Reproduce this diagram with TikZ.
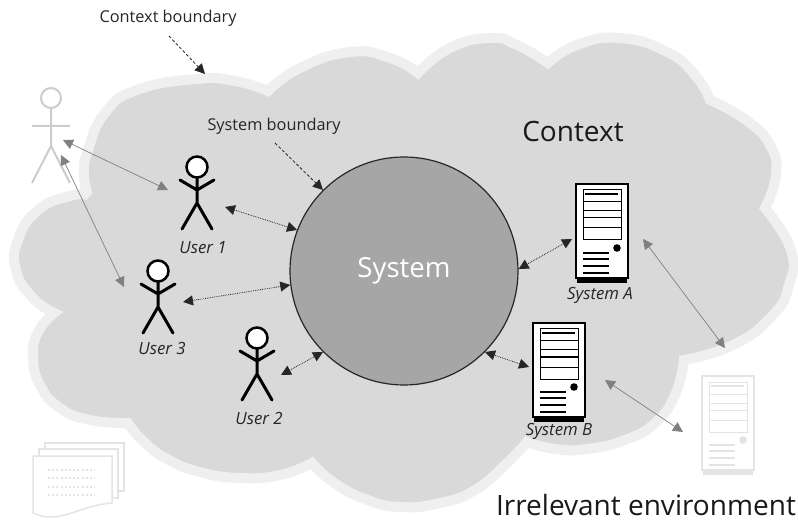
\documentclass[tikz,border=0pt]{standalone}
\usepackage{fontspec}
\setmainfont{Open Sans}
\usetikzlibrary{positioning,arrows.meta}
\definecolor{cloudfill}{HTML}{D9D9D9}
\definecolor{cloudrim}{HTML}{EFEFEF}
\definecolor{faint}{HTML}{E4E4E4}
\tikzset{
    tip/.style={-{Triangle[length=10pt,width=10pt]}},
    bothtip/.style={{Triangle[length=10pt,width=10pt]}-{Triangle[length=10pt,width=10pt]}},
    blackarrow/.style={bothtip, black!85, line width=0.8pt, densely dotted},
    greyarrow/.style={bothtip, black!50, line width=0.7pt},
    pointer/.style={tip, black!85, line width=0.8pt, densely dashed},
    lobe/.style={smooth,tension=0.85},
    caption/.style={text=black!85, font=\fontsize{16.8}{19}\selectfont\itshape, inner sep=0pt},
    title/.style={text=black!85, font=\fontsize{16.3}{19}\selectfont, inner sep=0pt},
    bigtitle/.style={text=black!90, font=\fontsize{28}{32}\selectfont, inner sep=0pt}
}
\begin{document}
\begin{tikzpicture}[x=1pt,y=-1pt]
    \useasboundingbox (0,0) rectangle (798,521);

    % Cloud
    \filldraw[fill=cloudfill, draw=cloudrim, line width=10pt, line join=miter, miter limit=2]
        plot[lobe] coordinates {(268,91) (235,81) (197,79) (137,90) (105,113) (88,150) (84,175) (88,195)}
        -- plot[lobe] coordinates {(88,195) (70,196) (38,210) (18,240) (16,270) (32,297) (54,313)}
        -- plot[lobe] coordinates {(54,313) (38,332) (33,357) (40,385) (60,408) (90,420) (128,423)}
        -- plot[lobe] coordinates {(128,423) (143,441) (167,459) (200,472) (240,478) (280,475) (312,463)}
        -- plot[lobe] coordinates {(312,463) (333,482) (365,499) (400,507) (440,503) (475,490) (505,465) (527,442)}
        -- plot[lobe] coordinates {(527,442) (555,449) (587,449) (625,440) (655,423) (675,395) (684,360)}
        -- plot[lobe] coordinates {(684,360) (733,345) (772,316) (789,285) (791,250) (765,208)}
        -- plot[lobe] coordinates {(765,208) (776,175) (770,145) (746,120) (710,100)}
        -- plot[lobe] coordinates {(710,100) (695,75) (667,52) (620,38) (577,45) (548,63)}
        -- plot[lobe] coordinates {(548,63) (517,45) (490,38) (450,48) (418,73)}
        -- plot[lobe] coordinates {(418,73) (390,58) (350,52) (300,68) (268,91)}
        -- cycle;

    % System
    \node[circle, draw=black!85, fill=black!35, line width=1.2pt, minimum size=228pt, inner sep=0pt,
        text=white, font=\fontsize{27.6}{30}\selectfont] (system) at (404,271) {System};

    % Users
    \foreach \ux/\uy in {197/167, 158/271, 257/338} {
        \draw[line width=3pt, line cap=round, line join=round]
            (\ux,\uy+11) -- (\ux,\uy+36) -- (\ux-15,\uy+62)
            (\ux,\uy+36) -- (\ux+15,\uy+62)
            (\ux-17,\uy+13) -- (\ux,\uy+23) -- (\ux+17,\uy+13);
        \draw[line width=2.5pt, fill=white] (\ux,\uy) circle (10.5);
    }
    \node[caption] (user1) at (203,248) {User 1};
    \node[caption] (user2) at (259,418) {User 2};
    \node[caption] (user3) at (162,348) {User 3};

    % Outside user
    \draw[black!20, line width=2pt]
        (51,109) -- (51,146) -- (32,183)
        (51,146) -- (70,183)
        (32,126) -- (70,126);
    \draw[black!20, line width=2pt] (51,98) circle (10);

    % Servers
    \foreach \sx/\sy/\scol in {576/184/black, 533/323/black, 702/376/faint} {
        \begin{scope}[shift={(\sx,\sy)}]
            \fill[\scol] (1,94) rectangle (51,99);
            \draw[\scol, fill=white, line width=1.3pt] (0,0) rectangle (52,94);
            \draw[\scol, line width=1pt] (7,6) rectangle (45,56);
            \foreach \ry in {18,27,34,44}
                \draw[\scol, line width=1pt] (7,\ry) -- (45,\ry);
            \draw[\scol, line width=1.8pt] (9,10) -- (42,10);
            \fill[\scol] (41,64) circle (3.8);
            \foreach \ry in {69,75,82,89}
                \draw[\scol, line width=1.2pt] (7,\ry) -- (33,\ry);
        \end{scope}
    }
    \node[caption] (systema) at (600,295) {System A};
    \node[caption] (systemb) at (559,431) {System B};

    % Document stack
    \draw[faint, fill=white, line width=1.5pt] (45,443) rectangle (124,491);
    \draw[faint, fill=white, line width=1.5pt] (39,449) rectangle (118,498);
    \draw[faint, fill=white, line width=1.5pt] (33,456) -- (112,456) -- (112,503)
        .. controls (85,505) and (70,517) .. (50,517)
        .. controls (43,517) and (38,515) .. (33,513) -- cycle;
    \foreach \ry in {470,478,487,495}
        \draw[faint, line width=1.5pt, dash pattern=on 2pt off 2.2pt] (48,\ry) -- (95,\ry);

    % Labels
    \node[title] (contextb) at (168,18) {Context boundary};
    \node[title] (systemlabel) at (274,126) {System boundary};
    \node[bigtitle] (context) at (573,132) {Context};
    \node[bigtitle] (irrelevant) at (646,505) {Irrelevant environment};

    % Free ends of the arrows
    \coordinate (pa) at (169,36);
    \coordinate (pb) at (205,74);
    \coordinate (pc) at (275,143);
    \coordinate (u1) at (225,207);
    \coordinate (u2) at (281,375);
    \coordinate (u3) at (183,302);
    \coordinate (sa) at (572,239);
    \coordinate (sb) at (529,367);
    \coordinate (g1a) at (63,140);
    \coordinate (g1b) at (168,190);
    \coordinate (g2a) at (61,155);
    \coordinate (g2b) at (124,287);
    \coordinate (g3a) at (643,239);
    \coordinate (g3b) at (725,348);
    \coordinate (g4a) at (605,380);
    \coordinate (g4b) at (683,432);

    % Arrows
    \draw[pointer] (pa) -- (pb);
    \draw[pointer] (pc) -- (system.135);
    \draw[blackarrow] (u1) -- (system.159);
    \draw[blackarrow] (u2) -- (system.225);
    \draw[blackarrow] (u3) -- (system.187);
    \draw[blackarrow] (sa) -- (system.1);
    \draw[blackarrow] (sb) -- (system.315);
    \draw[greyarrow] (g1a) -- (g1b);
    \draw[greyarrow] (g2a) -- (g2b);
    \draw[greyarrow] (g3a) -- (g3b);
    \draw[greyarrow] (g4a) -- (g4b);
\end{tikzpicture}
\end{document}
